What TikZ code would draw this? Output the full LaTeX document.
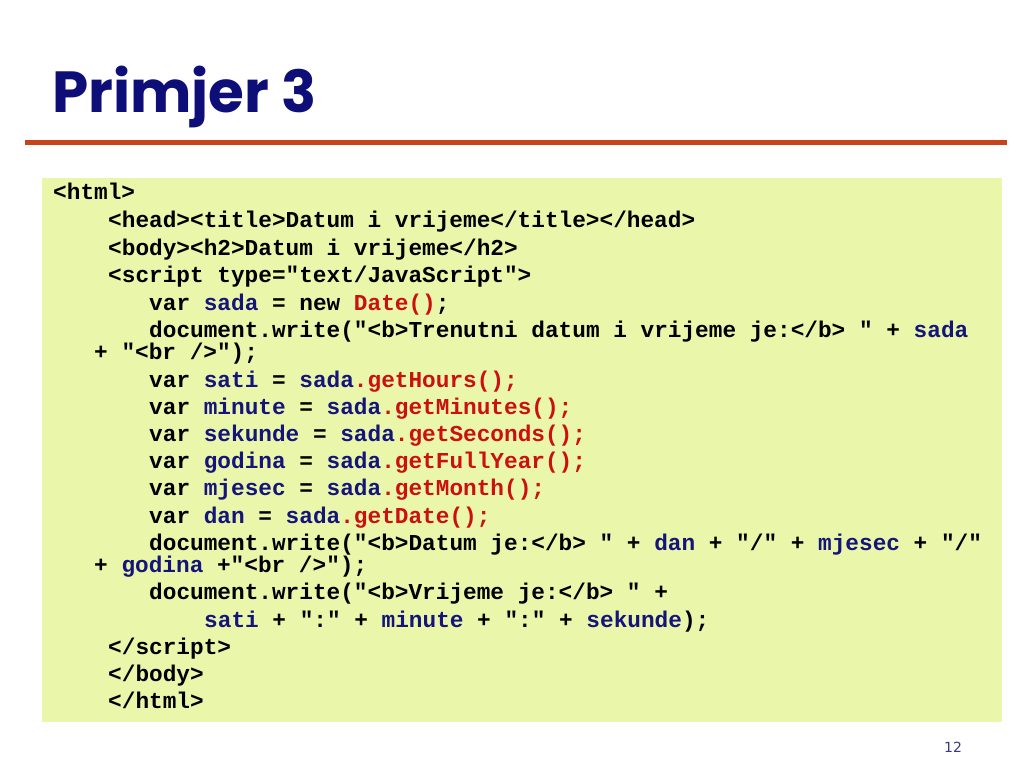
\documentclass[tikz,border=0pt]{standalone}
\usepackage{fontspec}
\newfontfamily\codefont{Liberation Mono}
\newfontfamily\titlefont{Poppins}
\newfontfamily\numfont{DejaVu Sans}
\definecolor{varblue}{HTML}{14147A}
\definecolor{methred}{HTML}{CC1010}
\definecolor{titleblue}{HTML}{0E0E78}
\definecolor{rulecol}{HTML}{C8421C}
\definecolor{boxfill}{HTML}{EAF6AA}
\definecolor{numcol}{HTML}{3A3A80}
\newcommand\vv[1]{\textcolor{varblue}{#1}}
\newcommand\mm[1]{\textcolor{methred}{#1}}
\tikzset{
  codeline/.style={anchor=base west, inner sep=0pt, font=\codefont\bfseries\fontsize{22.75}{26}\selectfont, text=black},
}
\begin{document}
\begin{tikzpicture}[x=1pt,y=-1pt]
\useasboundingbox (0,0) rectangle (1024,768);
\fill[white] (0,0) rectangle (1024,768);
% title
\node[anchor=base west, inner sep=0pt, text=titleblue, font=\titlefont\bfseries\fontsize{58}{64}\selectfont] (title) at (52,112) {Primjer 3};
\fill[rulecol] (25,140) rectangle (1007,144.5);
% code box
\fill[boxfill] (42,178) rectangle (1002,722);
\def\xa{53}\def\xb{108}\def\xc{149}\def\xd{94}\def\xe{204}
\node[codeline] (l1) at (\xa,199) {<html>};
\node[codeline] (l2) at (\xb,227) {<head><title>Datum i vrijeme</title></head>};
\node[codeline] (l3) at (\xb,255) {<body><h2>Datum i vrijeme</h2>};
\node[codeline] (l4) at (\xb,282) {<script type="text/JavaScript">};
\node[codeline] (l5) at (\xc,310) {var \vv{sada} = new \mm{Date()};};
\node[codeline] (l6) at (\xc,337) {document.write("<b>Trenutni datum i vrijeme je:</b> " + \vv{sada}};
\node[codeline] (l7) at (\xd,359) {+ "<br />");};
\node[codeline] (l8) at (\xc,387) {var \vv{sati} = \vv{sada}\mm{.getHours();}};
\node[codeline] (l9) at (\xc,414) {var \vv{minute} = \vv{sada}\mm{.getMinutes();}};
\node[codeline] (l10) at (\xc,441) {var \vv{sekunde} = \vv{sada}\mm{.getSeconds();}};
\node[codeline] (l11) at (\xc,468) {var \vv{godina} = \vv{sada}\mm{.getFullYear();}};
\node[codeline] (l12) at (\xc,495) {var \vv{mjesec} = \vv{sada}\mm{.getMonth();}};
\node[codeline] (l13) at (\xc,523) {var \vv{dan} = \vv{sada}\mm{.getDate();}};
\node[codeline] (l14) at (\xc,550) {document.write("<b>Datum je:</b> " + \vv{dan} + "/" + \vv{mjesec} + "/"};
\node[codeline] (l15) at (\xd,572) {+ \vv{godina} +"<br />");};
\node[codeline] (l16) at (\xc,599) {document.write("<b>Vrijeme je:</b> " +};
\node[codeline] (l17) at (\xe,627) {\vv{sati} + ":" + \vv{minute} + ":" + \vv{sekunde});};
\node[codeline] (l18) at (\xb,654) {</script>};
\node[codeline] (l19) at (\xb,681) {</body>};
\node[codeline] (l20) at (\xb,708) {</html>};
% page number
\node[anchor=base, inner sep=0pt, text=numcol, font=\numfont\fontsize{14}{16}\selectfont] (pnum) at (953,752) {12};
\end{tikzpicture}
\end{document}
